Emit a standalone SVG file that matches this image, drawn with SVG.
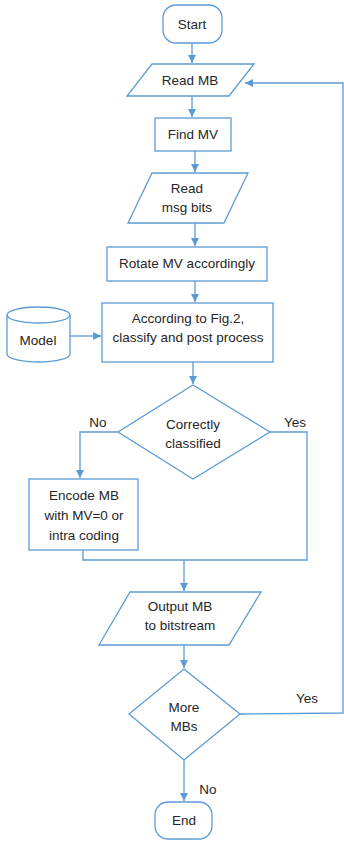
<svg xmlns="http://www.w3.org/2000/svg" width="344" height="844" viewBox="0 0 344 844">
<style>
.s{fill:#fff;stroke:#5B9BD5;stroke-width:1.3}
.c{fill:none;stroke:#5B9BD5;stroke-width:1.3}
text{font-family:"Liberation Sans",Arial,sans-serif;font-size:13.5px;fill:#262626;text-anchor:middle}
</style>
<defs>
<marker id="a" markerWidth="10" markerHeight="10" refX="8" refY="4" orient="auto" markerUnits="userSpaceOnUse">
<path d="M0,0 L8,4 L0,8 Z" fill="#5B9BD5"/>
</marker>
</defs>
<rect width="344" height="844" fill="#fff"/>
<g id="connectors">
<path class="c" d="M192,43 V63" marker-end="url(#a)"/>
<path class="c" d="M192,96 V117" marker-end="url(#a)"/>
<path class="c" d="M195,151 V172" marker-end="url(#a)"/>
<path class="c" d="M195,223 V246" marker-end="url(#a)"/>
<path class="c" d="M195,281 V302" marker-end="url(#a)"/>
<path class="c" d="M70,336 H101" marker-end="url(#a)"/>
<path class="c" d="M193,362 V384" marker-end="url(#a)"/>
<path class="c" d="M118,432 H80 V478" marker-end="url(#a)"/>
<path class="c" d="M270,432 H307 V560 H83 V550"/>
<path class="c" d="M184,560 V591" marker-end="url(#a)"/>
<path class="c" d="M184,645 V668" marker-end="url(#a)"/>
<path class="c" d="M240,714 L343,713 V83 H245" marker-end="url(#a)"/>
<path class="c" d="M184,760 V801" marker-end="url(#a)"/>
<text x="98" y="427">No</text>
<text x="295" y="427">Yes</text>
<text x="307" y="703">Yes</text>
<text x="208" y="794">No</text>
</g>
<g id="start"><rect class="s" x="163" y="5" width="59" height="38" rx="13"/><text x="192" y="29">Start</text></g>
<g id="readmb"><path class="s" d="M152,64 H254 L229,96 H127 Z"/><text x="190" y="85">Read MB</text></g>
<g id="findmv"><rect class="s" x="155" y="118" width="76" height="33"/><text x="193" y="139">Find MV</text></g>
<g id="readmsg"><path class="s" d="M152,173 H248 L224,223 H128 Z"/><text x="187" y="193">Read</text><text x="187" y="212">msg bits</text></g>
<g id="rotate"><rect class="s" x="107" y="247" width="160" height="34"/><text x="187" y="268">Rotate MV accordingly</text></g>
<g id="classify"><rect class="s" x="102" y="303" width="171" height="59"/><text x="188" y="323">According to Fig.2,</text><text x="188" y="342">classify and post process</text></g>
<g id="model"><path class="s" d="M7,315 A31.5,8 0 0 1 70,315 V354 A31.5,8 0 0 1 7,354 Z"/><path class="c" d="M7,315 A31.5,8 0 0 0 70,315"/><text x="38" y="345">Model</text></g>
<g id="correct"><path class="s" d="M193,385 L270,432 L193,479 L118,432 Z"/><text x="193" y="429">Correctly</text><text x="193" y="448">classified</text></g>
<g id="encode"><rect class="s" x="29" y="479" width="109" height="71"/><text x="84" y="500">Encode MB</text><text x="84" y="520">with MV=0 or</text><text x="84" y="540">intra coding</text></g>
<g id="output"><path class="s" d="M130,592 H261 L229,645 H99 Z"/><text x="180" y="611">Output MB</text><text x="180" y="630">to bitstream</text></g>
<g id="more"><path class="s" d="M184,669 L240,714 L184,760 L129,714 Z"/><text x="184" y="712">More</text><text x="184" y="731">MBs</text></g>
<g id="end"><rect class="s" x="155" y="802" width="57" height="37" rx="13"/><text x="184" y="825">End</text></g>
</svg>
